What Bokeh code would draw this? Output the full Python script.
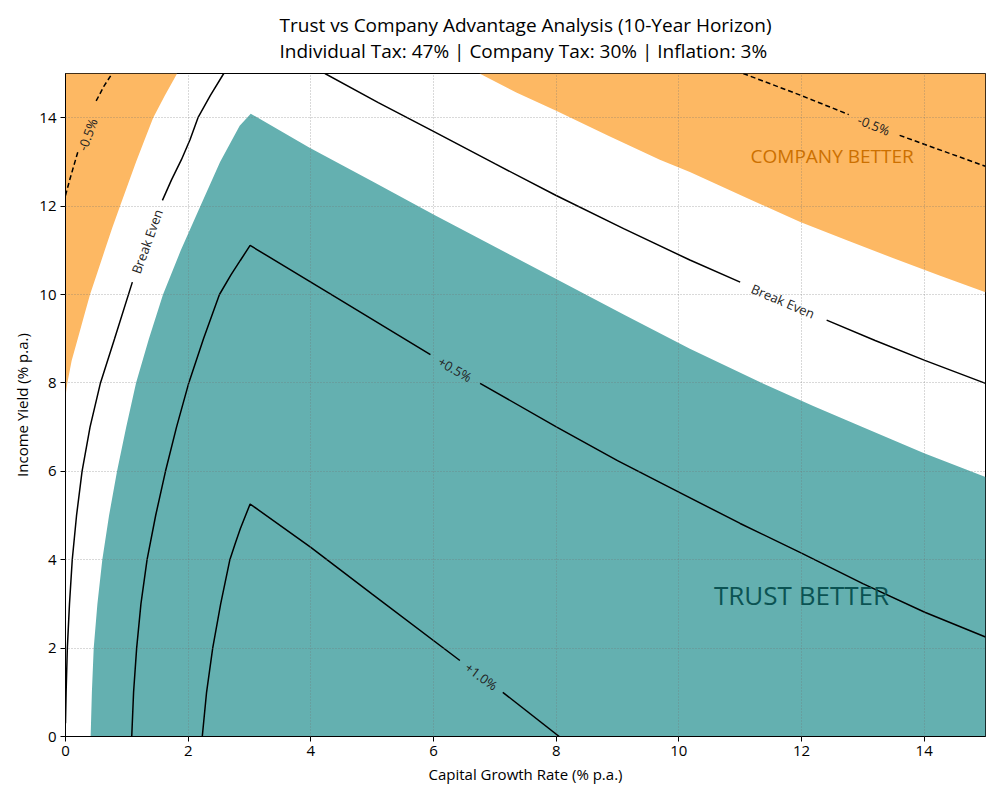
from bokeh.plotting import figure
from bokeh.models import Range1d, SingleIntervalTicker
from bokeh.core.properties import value
from bokeh.embed import file_html
from bokeh.resources import INLINE
import math

# ---- data (growth %, yield %) ----
# filled regions
trust_x = [0.41, 0.43, 0.46, 0.52, 0.60, 0.71, 0.84, 0.99, 1.15, 1.36, 1.59, 1.88, 2.20, 2.52, 2.84, 3.02, 3.98, 5.0, 6.0, 7.0, 8.0, 9.1, 10.18, 11.38, 12.2, 13.06, 14.0, 15.0, 15.0]
trust_y = [0.0, 1.0, 2.0, 3.0, 4.0, 5.0, 6.0, 7.0, 8.0, 9.0, 10.0, 11.0, 12.0, 13.0, 13.82, 14.09, 13.32, 12.56, 11.81, 11.08, 10.35, 9.55, 8.77, 7.98, 7.47, 6.96, 6.41, 5.87, 0.0]

comp_left_x = [0.0, 0.01, 0.03, 0.10, 0.20, 0.30, 0.40, 0.52, 0.64, 0.76, 0.89, 1.02, 1.15, 1.29, 1.43, 1.62, 1.82, 0.0]
comp_left_y = [7.6, 7.8, 8.0, 8.5, 9.0, 9.5, 10.0, 10.5, 11.0, 11.5, 12.0, 12.5, 13.0, 13.5, 14.0, 14.5, 15.0, 15.0]

comp_right_x = [6.75, 7.35, 8.0, 8.85, 9.69, 10.18, 11.1, 11.98, 12.75, 13.5, 14.25, 15.0, 15.0]
comp_right_y = [15.0, 14.57, 14.16, 13.59, 13.05, 12.77, 12.19, 11.64, 11.22, 10.82, 10.43, 10.05, 15.0]

# contour lines (segments broken where labels sit)
neg05_segs_x = [[0.0, 0.07, 0.21], [0.50, 0.63, 0.76], [11.05, 12.0, 12.77], [13.6, 14.3, 15.0]]
neg05_segs_y = [[12.24, 12.6, 13.27], [14.38, 14.72, 15.0], [15.0, 14.5, 14.07], [13.6, 13.25, 12.9]]

even_segs_x = [[0.0, 0.01, 0.03, 0.065, 0.11, 0.18, 0.27, 0.40, 0.57, 0.80, 1.09],
               [1.58, 1.73, 1.89, 2.03, 2.16, 2.36, 2.58],
               [4.23, 5.1, 6.0, 7.0, 8.0, 9.1, 10.18, 11.0],
               [12.41, 13.2, 14.01, 15.0]]
even_segs_y = [[0.3, 1.0, 2.0, 3.0, 4.0, 5.0, 6.0, 7.0, 8.0, 9.0, 10.28],
               [12.13, 12.6, 13.05, 13.5, 14.0, 14.5, 15.0],
               [15.0, 14.34, 13.69, 12.96, 12.24, 11.49, 10.78, 10.28],
               [9.42, 8.96, 8.51, 7.99]]

pos05_segs_x = [[1.08, 1.11, 1.16, 1.23, 1.33, 1.47, 1.63, 1.81, 2.01, 2.25, 2.51, 2.70, 2.85, 3.01, 4.31, 5.95],
                [6.76, 8.01, 9.0, 10.0, 11.0, 12.0, 13.0, 14.01, 15.0]]
pos05_segs_y = [[0.0, 1.0, 2.0, 3.0, 4.0, 5.0, 6.0, 7.0, 8.0, 9.0, 10.0, 10.45, 10.77, 11.11, 10.02, 8.64],
                [7.99, 7.0, 6.24, 5.53, 4.82, 4.15, 3.46, 2.81, 2.25]]

pos10_segs_x = [[2.23, 2.30, 2.40, 2.53, 2.68, 2.77, 2.85, 3.01, 4.0, 5.0, 6.43],
                [7.13, 8.05]]
pos10_segs_y = [[0.0, 1.0, 2.0, 3.0, 4.0, 4.38, 4.70, 5.26, 4.28, 3.22, 1.72],
                [1.0, 0.0]]

# contour labels
lab_text = ["-0.5%", "-0.5%", "Break Even", "Break Even", "+0.5%", "+1.0%"]
lab_x = [0.36, 13.18, 1.33, 11.70, 6.35, 6.78]
lab_y = [13.62, 13.83, 11.20, 9.85, 8.31, 1.36]
lab_deg = [70, -22, 70, -23, -30, -36]

title_text = "Trust vs Company Advantage Analysis (10-Year Horizon)\nIndividual Tax: 47% | Company Tax: 30% | Inflation: 3%"
x_label = "Capital Growth Rate (% p.a.)"
y_label = "Income Yield (% p.a.)"

FONT = "Open Sans"

p = figure(width=993, height=792, output_backend="svg", toolbar_location=None,
           x_range=Range1d(0, 15), y_range=Range1d(0, 15),
           min_border_left=65, min_border_right=8, min_border_top=73, min_border_bottom=56)

p.title.text = title_text
p.title.align = "center"
p.title.text_font = FONT
p.title.text_font_size = "19px"
p.title.text_font_style = "normal"
p.title.text_color = "black"
p.title.text_line_height = 1.0
p.title.standoff = 19

# fills
p.patch(trust_x, trust_y, fill_color="#64b0b0", line_color=None)
p.patch(comp_left_x, comp_left_y, fill_color="#fdb863", line_color=None)
p.patch(comp_right_x, comp_right_y, fill_color="#fdb863", line_color=None)

# contour lines
p.multi_line(neg05_segs_x, neg05_segs_y, line_color="black", line_width=1.5, line_dash="5 3")
p.multi_line(even_segs_x, even_segs_y, line_color="black", line_width=1.5)
p.multi_line(pos05_segs_x, pos05_segs_y, line_color="black", line_width=1.5)
p.multi_line(pos10_segs_x, pos10_segs_y, line_color="black", line_width=1.5)

p.text(x=lab_x, y=lab_y, text=lab_text, angle=[math.radians(a) for a in lab_deg],
       text_align="center", text_baseline="middle", text_font=value(FONT),
       text_font_size="13px", text_color="#222222")

p.text(x=[12.5], y=[13.14], text=["COMPANY BETTER"], text_align="center", text_baseline="middle",
       text_font=value(FONT), text_font_size="19px", text_color="#cc7000")
p.text(x=[12.0], y=[3.2], text=["TRUST BETTER"], text_align="center", text_baseline="middle",
       text_font=value(FONT), text_font_size="26px", text_color="#0b5353")

# grid
for g in (p.xgrid, p.ygrid):
    g.level = "annotation"
    g.grid_line_color = "#707070"
    g.grid_line_alpha = 0.6
    g.grid_line_dash = "1 2"
    g.grid_line_width = 0.9

# axes
for ax in (p.xaxis, p.yaxis):
    ax.ticker = SingleIntervalTicker(interval=2, num_minor_ticks=0)
    ax.major_tick_in = 0
    ax.major_tick_out = 5
    ax.minor_tick_line_color = None
    ax.axis_line_color = "black"
    ax.major_tick_line_color = "black"
    ax.major_label_text_font = FONT
    ax.major_label_text_font_size = "15px"
    ax.major_label_text_color = "black"
    ax.major_label_standoff = 4
    ax.axis_label_text_font = FONT
    ax.axis_label_text_font_size = "15px"
    ax.axis_label_text_font_style = "normal"
    ax.axis_label_text_color = "black"
p.xaxis.axis_label = x_label
p.yaxis.axis_label = y_label
p.xaxis.axis_label_standoff = 5
p.yaxis.axis_label_standoff = 4
p.yaxis.major_label_orientation = "horizontal"

p.outline_line_color = "black"
p.outline_line_width = 1
p.background_fill_color = "white"

open("out.html", "w").write(file_html(p, INLINE))
